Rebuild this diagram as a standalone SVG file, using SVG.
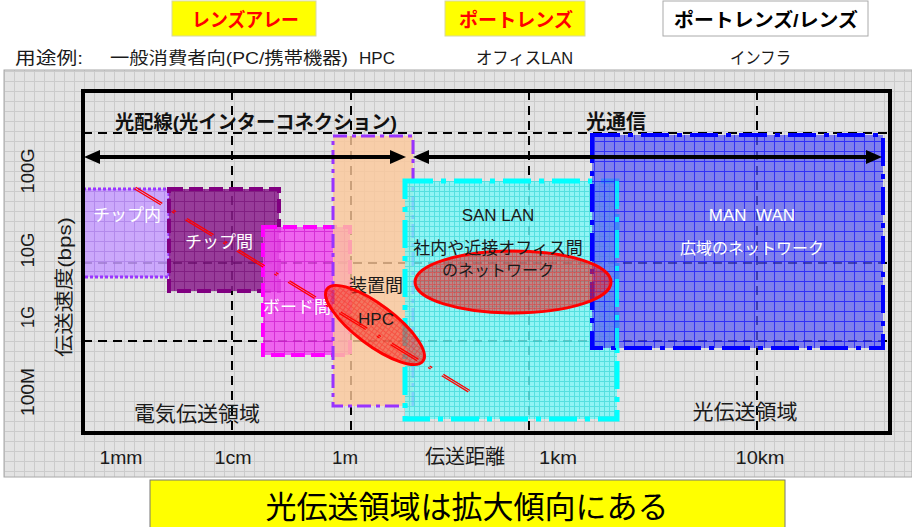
<svg xmlns="http://www.w3.org/2000/svg" width="912" height="527" viewBox="0 0 912 527">
<style>
.t{font-family:"Liberation Sans","Noto Sans CJK JP",sans-serif;fill:#1a1a1a}
.b{font-weight:bold}
.w{fill:#ffffff}
.ref{stroke:#000;stroke-width:2;stroke-dasharray:9 6;fill:none}
.arr{stroke:#000;stroke-width:4;fill:none;marker-start:url(#ah);marker-end:url(#ah)}
.rl{stroke:#ff0000;stroke-width:1.3;stroke-dasharray:31 13 3 13;fill:none}
</style>
<defs>
<pattern id="bggrid" width="10" height="10" patternUnits="userSpaceOnUse" x="4" y="1">
<rect width="10" height="10" fill="#e3e3e3"/>
<path d="M0 0.5H10M0.5 0V10" stroke="#cbcbcb" stroke-width="1"/>
</pattern>
<pattern id="gPurple" width="10" height="10" patternUnits="userSpaceOnUse" x="4" y="1">
<path d="M0 0.5H10M0.5 0V10" stroke="#6a006a" stroke-width="1" opacity="0.45"/>
</pattern>
<pattern id="gLav" width="10" height="10" patternUnits="userSpaceOnUse" x="4" y="1">
<path d="M0 0.5H10M0.5 0V10" stroke="#a070e0" stroke-width="1" opacity="0.5"/>
</pattern>
<pattern id="gMag" width="10" height="10" patternUnits="userSpaceOnUse" x="4" y="1">
<path d="M0 0.5H10M0.5 0V10" stroke="#c000c0" stroke-width="1" opacity="0.5"/>
</pattern>
<pattern id="gCyan" width="5" height="5" patternUnits="userSpaceOnUse" x="4" y="1">
<path d="M0 0.5H5M0.5 0V5" stroke="#20d0d0" stroke-width="1" opacity="0.5"/>
</pattern>
<pattern id="gBlue" width="10" height="10" patternUnits="userSpaceOnUse" x="4" y="1">
<path d="M0 0.5H10M0.5 0V10" stroke="#0000ff" stroke-width="1" opacity="0.6"/>
</pattern>
<pattern id="gRed" width="4" height="4" patternUnits="userSpaceOnUse">
<path d="M0 0.5H4M0.5 0V4" stroke="#ff0000" stroke-width="1" opacity="0.3"/>
</pattern>
<marker id="ah" markerWidth="16" markerHeight="14" refX="2" refY="7" orient="auto-start-reverse" markerUnits="userSpaceOnUse">
<path d="M0,0 L16,7 L0,14 z" fill="#000"/>
</marker>
</defs>

<rect x="0" y="0" width="912" height="527" fill="#ffffff"/>

<!-- top category labels -->
<g id="lens-array">
<rect x="172" y="1" width="144" height="35" fill="#ffff00" stroke="#d8d8a0" stroke-width="1"/>
<text class="t b" x="245.5" y="27" font-size="19" text-anchor="middle" style="fill:#ff0000" textLength="107" lengthAdjust="spacingAndGlyphs">レンズアレー</text>
</g>
<g id="port-lens">
<rect x="445" y="1" width="140" height="35" fill="#ffff00" stroke="#d8d8a0" stroke-width="1"/>
<text class="t b" x="516" y="27" font-size="19" text-anchor="middle" style="fill:#ff0000" textLength="114" lengthAdjust="spacingAndGlyphs">ポートレンズ</text>
</g>
<g id="port-lens-lens">
<rect x="663" y="1" width="205" height="35" fill="#ffffff" stroke="#aaaaaa" stroke-width="1"/>
<text class="t b" x="766" y="27" font-size="19" text-anchor="middle" style="fill:#000" textLength="184" lengthAdjust="spacingAndGlyphs">ポートレンズ/レンズ</text>
</g>

<!-- usage row -->
<g id="usage-row">
<text class="t" x="15" y="64" font-size="17" textLength="68" lengthAdjust="spacingAndGlyphs">用途例:</text>
<text class="t" x="110" y="64" font-size="17" textLength="238" lengthAdjust="spacingAndGlyphs">一般消費者向(PC/携帯機器)</text>
<text class="t" x="359" y="64" font-size="17" textLength="36" lengthAdjust="spacingAndGlyphs">HPC</text>
<text class="t" x="476" y="64" font-size="17" textLength="97" lengthAdjust="spacingAndGlyphs">オフィスLAN</text>
<text class="t" x="730" y="64" font-size="17" textLength="61" lengthAdjust="spacingAndGlyphs">インフラ</text>
</g>

<!-- chart background panel -->
<rect x="4" y="70" width="908" height="407" fill="url(#bggrid)" stroke="#a8a8a8" stroke-width="1"/>

<!-- reference dashed lines -->
<g id="connectors">
<g id="grid-lines">
<line class="ref" x1="83" y1="133" x2="890" y2="133"/>
<line class="ref" x1="83" y1="263" x2="890" y2="263"/>
<line class="ref" x1="83" y1="341" x2="890" y2="341"/>
<line class="ref" x1="232" y1="91" x2="232" y2="433"/>
<line class="ref" x1="351" y1="91" x2="351" y2="433"/>
<line class="ref" x1="529" y1="91" x2="529" y2="433"/>
<line class="ref" x1="757" y1="91" x2="757" y2="433"/>
</g>
</g>

<!-- boxes -->
<g id="chip-in">
<rect x="83" y="189" width="86" height="88" fill="#c79dff" opacity="0.85"/>
<rect x="83" y="189" width="86" height="88" fill="url(#gLav)"/>
<rect x="83" y="189" width="86" height="88" fill="none" stroke="#9933ff" stroke-width="3" stroke-dasharray="3 2"/>
<text class="t w" x="127" y="221" font-size="17" text-anchor="middle">チップ内</text>
</g>
<g id="chip-between">
<rect x="169" y="189" width="110" height="102" fill="#8a1f8c" opacity="0.85"/>
<rect x="169" y="189" width="110" height="102" fill="url(#gPurple)"/>
<rect x="169" y="189" width="110" height="102" fill="none" stroke="#800080" stroke-width="4" stroke-dasharray="14 6"/>
<text class="t w" x="219" y="248" font-size="17" text-anchor="middle">チップ間</text>
</g>
<g id="board-between">
<rect x="263" y="227" width="87" height="128" fill="#f04cf0" opacity="0.85"/>
<rect x="263" y="227" width="87" height="128" fill="url(#gMag)"/>
<rect x="263" y="227" width="87" height="128" fill="none" stroke="#ff00ff" stroke-width="4" stroke-dasharray="14 6"/>
<text class="t w" x="263" y="313" font-size="17">ボード間</text>
</g>
<g id="device-between">
<rect x="333" y="136" width="80" height="270" fill="#fcc89a" opacity="0.8"/>
<rect x="333" y="136" width="80" height="270" fill="none" stroke="#9933ff" stroke-width="3" stroke-dasharray="14 5 4 5"/>
<text class="t" x="376" y="292" font-size="18" text-anchor="middle">装置間</text>
</g>
<g id="san-lan">
<rect x="405" y="181" width="212" height="238" fill="#7af7f7" opacity="0.8"/>
<rect x="405" y="181" width="212" height="238" fill="url(#gCyan)"/>
<rect x="405" y="181" width="212" height="238" fill="none" stroke="#00ffff" stroke-width="5" stroke-dasharray="28 8 5 8"/>
<text class="t" x="498" y="221" font-size="17" text-anchor="middle">SAN LAN</text>
</g>
<g id="man-wan">
<rect x="592" y="135" width="291" height="213" fill="#5a5af0" opacity="0.72"/>
<rect x="592" y="135" width="291" height="213" fill="url(#gBlue)"/>
<rect x="592" y="135" width="291" height="213" fill="none" stroke="#0000ff" stroke-width="4" stroke-dasharray="28 8 5 8"/>
<line x1="617" y1="181" x2="617" y2="348" stroke="#00ffff" stroke-width="4" stroke-dasharray="28 8 5 8" opacity="0.8"/>
<text class="t w" x="752" y="221" font-size="17" text-anchor="middle" xml:space="preserve" style="white-space:pre">MAN  WAN</text>
<text class="t w" x="752" y="254" font-size="16" text-anchor="middle">広域のネットワーク</text>
</g>

<!-- ellipses -->
<g id="office-network">
<ellipse cx="513" cy="282" rx="98" ry="31" fill="#e03030" opacity="0.55"/>
<ellipse cx="513" cy="282" rx="98" ry="31" fill="url(#gRed)"/>
<ellipse cx="513" cy="282" rx="98" ry="31" fill="none" stroke="#ff0000" stroke-width="3"/>
<text class="t" x="498" y="254" font-size="17" text-anchor="middle">社内や近接オフィス間</text>
<text class="t" x="498" y="276" font-size="16" text-anchor="middle">のネットワーク</text>
</g>
<g id="hpc">
<ellipse cx="375" cy="325" rx="60" ry="20" transform="rotate(37 375 325)" fill="#f03c30" opacity="0.6"/>
<ellipse cx="375" cy="325" rx="60" ry="20" transform="rotate(37 375 325)" fill="url(#gRed)"/>
<ellipse cx="375" cy="325" rx="60" ry="20" transform="rotate(37 375 325)" fill="none" stroke="#ff0000" stroke-width="3"/>
<text class="t" x="376" y="325" font-size="17" text-anchor="middle">HPC</text>
</g>

<!-- red double dashed trend line and arrows -->
<g id="connectors-main">
<line class="rl" x1="135.8" y1="187.3" x2="472.8" y2="392.3"/>
<line class="rl" x1="134.2" y1="188.7" x2="471.2" y2="393.7"/>
<line class="arr" x1="98" y1="157" x2="392" y2="157"/>
<line class="arr" x1="427" y1="157" x2="868" y2="157"/>
</g>

<!-- frame -->
<rect x="83" y="91" width="807" height="342" fill="none" stroke="#000" stroke-width="4"/>

<!-- section titles -->
<g id="title-interconnect">
<text class="t b" x="256" y="129" font-size="19" text-anchor="middle" style="fill:#111" textLength="282" lengthAdjust="spacingAndGlyphs">光配線(光インターコネクション)</text>
</g>
<g id="title-optcomm">
<text class="t b" x="616" y="129" font-size="20" text-anchor="middle" style="fill:#111">光通信</text>
</g>

<g id="regions">
<text class="t" x="197" y="421" font-size="21" text-anchor="middle">電気伝送領域</text>
<text class="t" x="745" y="419" font-size="21" text-anchor="middle">光伝送領域</text>
</g>

<!-- y axis -->
<g id="y-axis">
<text class="t" transform="translate(34 171) rotate(-90)" font-size="19" text-anchor="middle" textLength="45" lengthAdjust="spacingAndGlyphs">100G</text>
<text class="t" transform="translate(34 250) rotate(-90)" font-size="19" text-anchor="middle" textLength="35" lengthAdjust="spacingAndGlyphs">10G</text>
<text class="t" transform="translate(34 317) rotate(-90)" font-size="19" text-anchor="middle" textLength="22" lengthAdjust="spacingAndGlyphs">1G</text>
<text class="t" transform="translate(34 392) rotate(-90)" font-size="19" text-anchor="middle" textLength="48" lengthAdjust="spacingAndGlyphs">100M</text>
<text class="t" transform="translate(71 287) rotate(-90)" font-size="19" text-anchor="middle" textLength="140" lengthAdjust="spacingAndGlyphs">伝送速度(bps)</text>
</g>

<!-- x axis -->
<g id="x-axis">
<text class="t" x="121" y="464" font-size="19" text-anchor="middle" textLength="43" lengthAdjust="spacingAndGlyphs">1mm</text>
<text class="t" x="233" y="464" font-size="19" text-anchor="middle" textLength="37" lengthAdjust="spacingAndGlyphs">1cm</text>
<text class="t" x="345" y="464" font-size="19" text-anchor="middle" textLength="26" lengthAdjust="spacingAndGlyphs">1m</text>
<text class="t" x="425" y="464" font-size="20">伝送距離</text>
<text class="t" x="558" y="464" font-size="19" text-anchor="middle" textLength="38" lengthAdjust="spacingAndGlyphs">1km</text>
<text class="t" x="760" y="464" font-size="19" text-anchor="middle" textLength="49" lengthAdjust="spacingAndGlyphs">10km</text>
</g>

<!-- conclusion -->
<g id="conclusion">
<rect x="150" y="480" width="635" height="50" fill="#ffff00" stroke="#777" stroke-width="1"/>
<text class="t" x="467" y="518" font-size="31" text-anchor="middle" style="fill:#000">光伝送領域は拡大傾向にある</text>
</g>
</svg>
